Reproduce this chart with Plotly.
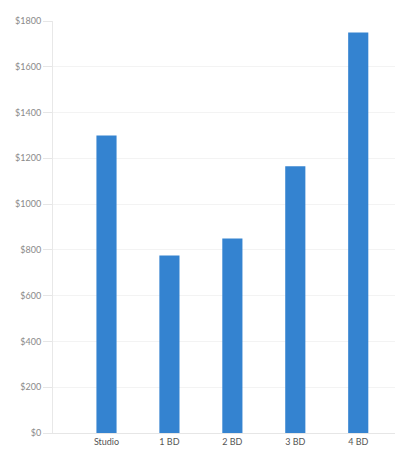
import plotly.graph_objects as go

categories = ["Studio", "1 BD", "2 BD", "3 BD", "4 BD"]
rents = [1300, 775, 850, 1165, 1750]
tick_values = [0, 200, 400, 600, 800, 1000, 1200, 1400, 1600, 1800]
tick_labels = ["$0", "$200", "$400", "$600", "$800", "$1000", "$1200", "$1400", "$1600", "$1800"]

fig = go.Figure(go.Bar(
    x=categories, y=rents, width=0.32,
    marker=dict(color="#3483d0", line=dict(width=0)),
))

fig.update_layout(
    width=395, height=451,
    margin=dict(l=45, r=7, t=9, b=26),
    paper_bgcolor="white", plot_bgcolor="white",
    font=dict(family="Lato, Noto Sans, sans-serif", size=9, color="#8a8a8a"),
    showlegend=False,
)
fig.update_xaxes(
    type="category", range=[-0.85, 4.6],
    showline=True, linecolor="#e6e6e6", linewidth=1,
    showgrid=False, ticks="", tickfont=dict(size=9, color="#555"),
)
fig.update_yaxes(
    range=[0, 1800], tickvals=tick_values, ticktext=tick_labels,
    showline=True, linecolor="#e8e8e8", linewidth=1,
    showgrid=True, gridcolor="#f3f3f3", gridwidth=1,
    ticks="outside", ticklen=9, tickcolor="#e6e6e6",
    tickfont=dict(size=9, color="#8a8a8a"),
    zeroline=False,
)

fig.write_html("out.html")
